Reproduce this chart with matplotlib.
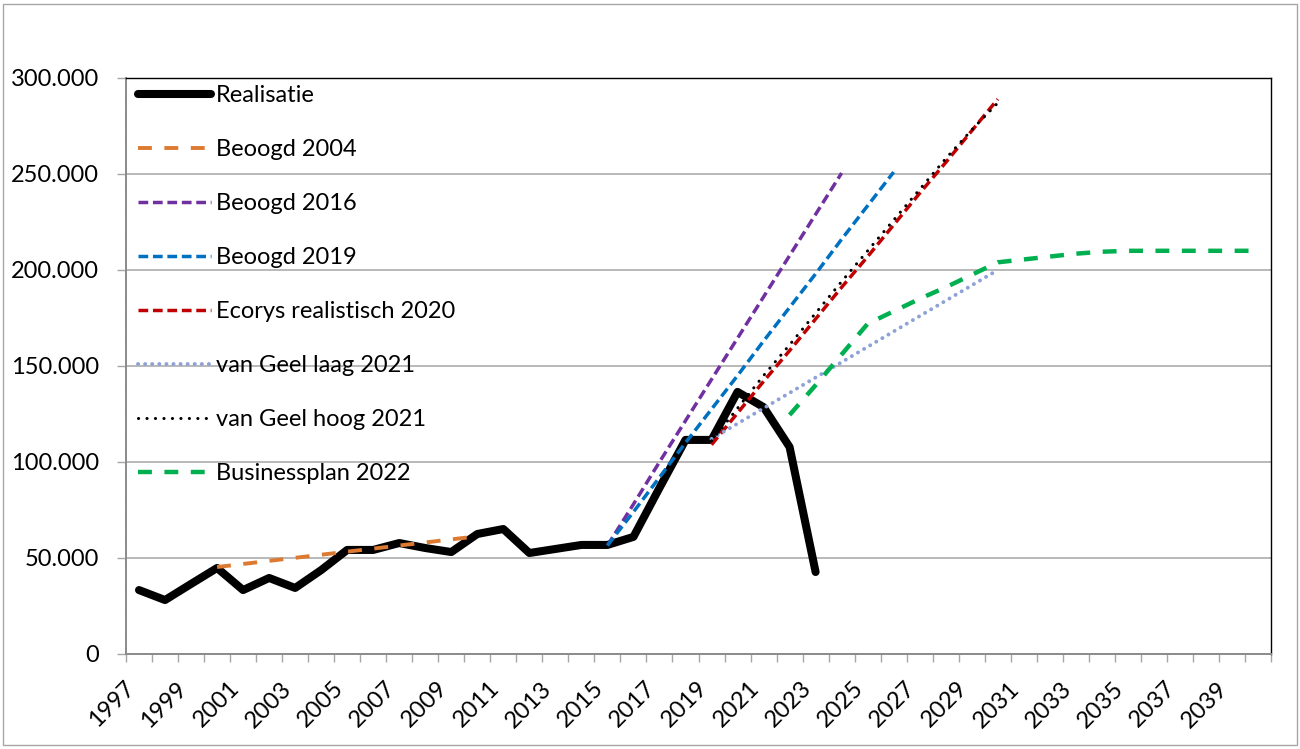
import numpy as np
import matplotlib
matplotlib.use("Agg")
import matplotlib.pyplot as plt
from matplotlib.ticker import FuncFormatter, FixedLocator
from matplotlib.patches import Rectangle

plt.rcParams['font.family'] = ['Lato', 'DejaVu Sans']
plt.rcParams['lines.scale_dashes'] = False

# ---- data (passengers per year) ----
realisatie_start = 1997
realisatie = [33300, 28100, 36500, 44800, 33300, 39600, 34400, 43700, 54200, 54200,
              57800, 55200, 53100, 62500, 65100, 52600, 54700, 56800, 56800, 61000,
              86500, 111500, 111500, 136500, 128600, 107800, 42700]

beoogd2004_start = 2000
beoogd2004 = [45300, 46900, 48500, 50100, 51700, 53300, 54900, 56500, 58100, 59700, 61300]

beoogd2016_start = 2015
beoogd2016 = [56500, 78000, 100000, 121500, 143000, 164500, 186000, 207500, 229000, 250500]

beoogd2019_start = 2015
beoogd2019 = [56500, 74000, 92000, 110000, 127500, 145000, 163000, 180500, 198000, 216000,
              233500, 251000]

ecorys2020_start = 2019
ecorys2020 = [109000, 125500, 142000, 158000, 174500, 191000, 207000, 223500, 240000,
              256000, 272500, 289000]

geel_laag_start = 2019
geel_laag = [112000, 120000, 128000, 136000, 144000, 152000, 160000, 168000, 176000,
             184000, 192000, 200000]

geel_hoog_start = 2019
geel_hoog = [111000, 128000, 145000, 161000, 177500, 194000, 210000, 226000, 242000,
             258000, 273000, 287000]

business_start = 2022
business = [124500, 140000, 156000, 172000, 178500, 185000, 191000, 197500, 204000,
            205500, 207000, 208500, 209500, 210000, 210000, 210000, 210000, 210000, 210000]

first_year, last_year = 1997, 2040
ytick_values = [0, 50000, 100000, 150000, 200000, 250000, 300000]


def xs(start, vals):
    return np.arange(start, start + len(vals))


W, H = 1300, 749
fig = plt.figure(figsize=(W / 100, H / 100), dpi=100)
ax = fig.add_axes([126 / W, 1 - 654 / H, (1271 - 126) / W, (654 - 78) / H])

# outer chart border
fig.patches.append(Rectangle((3 / W, 4 / H), (1297 - 3) / W, (745 - 4) / H,
                             transform=fig.transFigure, fill=False,
                             edgecolor='#A6A6A6', linewidth=1.0))

ax.plot(xs(realisatie_start, realisatie), realisatie, color='black', lw=5.8,
        solid_joinstyle='round', solid_capstyle='round', label='Realisatie', zorder=3)
ax.plot(xs(beoogd2004_start, beoogd2004), beoogd2004, color='#DD7A32', lw=2.8,
        linestyle=(0, (10, 9)), label='Beoogd 2004', zorder=4)
ax.plot(xs(beoogd2016_start, beoogd2016), beoogd2016, color='#7030A0', lw=2.5,
        linestyle=(0, (7.0, 3.4)), label='Beoogd 2016', zorder=4)
ax.plot(xs(beoogd2019_start, beoogd2019), beoogd2019, color='#0070C0', lw=2.5,
        linestyle=(0, (7.0, 3.4)), label='Beoogd 2019', zorder=4)
ax.plot(xs(ecorys2020_start, ecorys2020), ecorys2020, color='#C00000', lw=2.5,
        linestyle=(0, (7.0, 3.4)), label='Ecorys realistisch 2020', zorder=4)
ax.plot(xs(geel_laag_start, geel_laag), geel_laag, color='#8EA2D8', lw=2.8,
        linestyle=(0, (0.1, 5.0)), dash_capstyle='round', label='van Geel laag 2021', zorder=4)
ax.plot(xs(geel_hoog_start, geel_hoog), geel_hoog, color='black', lw=2.2,
        linestyle=(0, (0.1, 6.0)), dash_capstyle='round', label='van Geel hoog 2021', zorder=5)
ax.plot(xs(business_start, business), business, color='#00B050', lw=3.2,
        linestyle=(0, (10, 9)), label='Businessplan 2022', zorder=4)

ax.set_xlim(first_year - 0.5, last_year + 0.5)
ax.set_ylim(0, 300000)

# y axis
ax.yaxis.set_major_locator(FixedLocator(ytick_values))
ax.yaxis.set_major_formatter(FuncFormatter(
    lambda v, p: '0' if v == 0 else f'{int(v):,}'.replace(',', '.')))
ax.yaxis.grid(True, color='#A6A6A6', lw=1.1)
ax.set_axisbelow(True)
ax.tick_params(axis='y', which='major', length=6.5, width=1.0, color='#A6A6A6',
               pad=13, labelsize=17)

# x axis: labels on odd years, tick marks between categories
label_years = list(range(first_year, last_year, 2))
ax.xaxis.set_major_locator(FixedLocator(label_years))
ax.set_xticklabels([str(y) for y in label_years], rotation=45, ha='right', va='top')
ax.xaxis.set_minor_locator(FixedLocator(np.arange(first_year - 0.5, last_year + 1, 1.0)))
ax.tick_params(axis='x', which='major', length=0, pad=17, labelsize=17)
ax.tick_params(axis='x', which='minor', length=6, width=1.0, color='#A6A6A6')

for side in ('left', 'bottom'):
    ax.spines[side].set_color('#8C8C8C')
    ax.spines[side].set_linestyle((0, (1, 1)))
    ax.spines[side].set_linewidth(1.4)
for side in ('top', 'right'):
    ax.spines[side].set_color('black')
    ax.spines[side].set_linestyle((0, (1, 1)))
    ax.spines[side].set_linewidth(1.0)

leg = ax.legend(loc='upper left', bbox_to_anchor=(138 / W, 1 - 85 / H),
                bbox_transform=fig.transFigure, frameon=False, fontsize=17,
                handlelength=3.1, handletextpad=0.2, labelspacing=1.4,
                borderpad=0, borderaxespad=0)

fig.savefig('out.png', dpi=100)
